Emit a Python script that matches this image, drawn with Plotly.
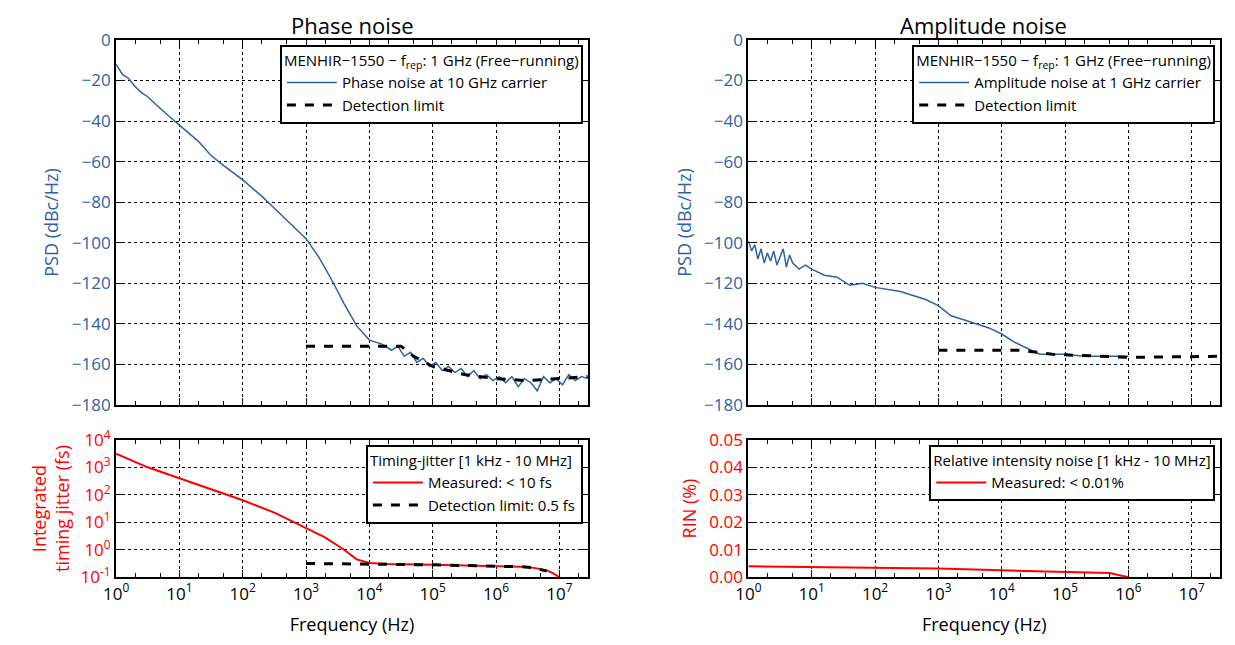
import plotly.graph_objects as go

# phase noise (log10 f, dBc/Hz)
pn_logf = [0, 0.1, 0.2, 0.3, 0.4, 0.5, 0.6, 0.7, 0.85, 1.0, 1.15, 1.3, 1.5, 1.7, 2.0, 2.3, 2.5, 2.7, 3.0, 3.2,
           3.4, 3.6, 3.8, 4.0, 4.2, 4.35, 4.45, 4.55, 4.65, 4.75, 4.85, 4.95, 5.05, 5.15, 5.25, 5.35, 5.45,
           5.55, 5.65, 5.75, 5.85, 5.95, 6.05, 6.15, 6.25, 6.35, 6.45, 6.55, 6.65, 6.75, 6.85, 6.95, 7.05,
           7.15, 7.25, 7.35, 7.45]
pn_db = [-12, -17, -19, -23, -26, -28, -31, -34, -38, -42, -46, -50, -57, -62, -69, -77, -83, -89, -98, -107,
         -118, -130, -141, -148, -150, -153, -151, -156, -154, -159, -157, -161, -159, -163, -161, -164, -162,
         -166, -163, -167, -165, -168, -166, -169, -166, -171, -167, -169, -173, -166, -169, -167, -170,
         -165, -168, -166, -167]
pn_lim_logf = [3.0, 4.5, 4.7, 5.0, 5.5, 6.0, 6.5, 7.0, 7.45]
pn_lim_db = [-151, -151, -156, -161, -165, -167, -168, -167, -166]

# amplitude noise
an_logf = [0, 0.05, 0.1, 0.15, 0.2, 0.25, 0.3, 0.35, 0.4, 0.45, 0.5, 0.55, 0.6, 0.65, 0.7, 0.8, 0.9, 1.0,
           1.2, 1.4, 1.6, 1.8, 2.0, 2.2, 2.4, 2.6, 2.8, 3.0, 3.2, 3.4, 3.6, 3.8, 4.0, 4.2, 4.4, 4.6, 4.8,
           5.0, 5.3, 5.6, 6.0]
an_db = [-99, -104, -101, -108, -103, -110, -105, -109, -104, -111, -107, -103, -112, -106, -110, -113, -111,
         -113, -116, -117, -121, -120, -122, -123, -124, -126, -128, -131, -136, -138, -140, -142, -145,
         -149, -152, -155, -155, -155, -156, -156, -156]
an_lim_logf = [3.0, 4.3, 4.8, 5.5, 6.0, 7.45]
an_lim_db = [-153, -153, -155, -156, -156.5, -156]

# integrated timing jitter (log10 fs)
tj_logf = [0, 0.5, 1.0, 1.5, 2.0, 2.5, 3.0, 3.3, 3.6, 3.8, 4.0, 4.3, 5.0, 5.5, 6.0, 6.4, 6.6, 6.8, 6.9, 7.0]
tj_log = [3.5, 3.0, 2.6, 2.2, 1.8, 1.35, 0.8, 0.45, 0.0, -0.35, -0.48, -0.52, -0.55, -0.57, -0.6, -0.62,
          -0.66, -0.75, -0.85, -1.0]
tj_lim_logf = [3.0, 4.3, 5.0, 6.0, 6.4, 6.6, 6.8]
tj_lim_log = [-0.5, -0.52, -0.55, -0.6, -0.62, -0.66, -0.78]

# RIN (%)
rin_logf = [0, 1, 2, 3, 4, 5, 5.7, 6.0]
rin_pct = [0.004, 0.0038, 0.0035, 0.0032, 0.0025, 0.002, 0.0015, 0.0]

xticks = [0, 1, 2, 3, 4, 5, 6, 7]
xticktext = ["10<sup>%d</sup>" % v for v in xticks]
jit_ticks = [-1, 0, 1, 2, 3, 4]
jit_ticktext = ["10<sup>%d</sup>" % v for v in jit_ticks]

BLUE = "#2e62a8"
RED = "#ff0000"
f = lambda lf: [10 ** v for v in lf]

fig = go.Figure()
fig.add_trace(go.Scatter(x=f(pn_logf), y=pn_db, mode="lines", line=dict(color=BLUE, width=1.5),
                         name="Phase noise at 10 GHz carrier", xaxis="x", yaxis="y", legend="legend"))
fig.add_trace(go.Scatter(x=f(pn_lim_logf), y=pn_lim_db, mode="lines",
                         line=dict(color="black", width=3, dash="dash"),
                         name="Detection limit", xaxis="x", yaxis="y", legend="legend"))
fig.add_trace(go.Scatter(x=f(tj_logf), y=f(tj_log), mode="lines", line=dict(color=RED, width=2),
                         name="Measured: < 10 fs", xaxis="x3", yaxis="y3", legend="legend3"))
fig.add_trace(go.Scatter(x=f(tj_lim_logf), y=f(tj_lim_log), mode="lines",
                         line=dict(color="black", width=3, dash="dash"),
                         name="Detection limit: 0.5 fs", xaxis="x3", yaxis="y3", legend="legend3"))
fig.add_trace(go.Scatter(x=f(an_logf), y=an_db, mode="lines", line=dict(color=BLUE, width=1.5),
                         name="Amplitude noise at 1 GHz carrier", xaxis="x2", yaxis="y2", legend="legend2"))
fig.add_trace(go.Scatter(x=f(an_lim_logf), y=an_lim_db, mode="lines",
                         line=dict(color="black", width=3, dash="dash"),
                         name="Detection limit", xaxis="x2", yaxis="y2", legend="legend2"))
fig.add_trace(go.Scatter(x=f(rin_logf), y=rin_pct, mode="lines", line=dict(color=RED, width=2),
                         name="Measured: < 0.01%", xaxis="x4", yaxis="y4", legend="legend4"))

xl = [0.0875, 0.4695]
xr = [0.5995, 0.9815]
yt = [0.3845, 0.9505]
yb = [0.1175, 0.3305]
base = dict(showline=True, linecolor="black", linewidth=2, mirror="ticks", ticks="inside",
            ticklen=7, tickcolor="black", showgrid=True, gridcolor="black", griddash="dot",
            gridwidth=0.5, zeroline=False, tickfont=dict(size=17), automargin=False)
xlog = dict(base, type="log", range=[0, 7.45], tickvals=f(xticks), ticktext=xticktext,
            minor=dict(ticks="inside", ticklen=4, tickcolor="black", showgrid=False))

lay = dict(
    width=1235, height=645, plot_bgcolor="white", paper_bgcolor="white",
    margin=dict(l=0, r=0, t=0, b=0, autoexpand=False), font=dict(family="Open Sans", color="black"),
    xaxis=dict(xlog, domain=xl, anchor="y", showticklabels=False),
    xaxis2=dict(xlog, domain=xr, anchor="y2", showticklabels=False),
    xaxis3=dict(xlog, domain=xl, anchor="y3",
                title=dict(text="Frequency (Hz)", font=dict(size=18))),
    xaxis4=dict(xlog, domain=xr, anchor="y4",
                title=dict(text="Frequency (Hz)", font=dict(size=18))),
    yaxis=dict(base, domain=yt, anchor="x", range=[-180, 0], dtick=20,
               tickfont=dict(size=17, color=BLUE),
               title=dict(text="PSD (dBc/Hz)", font=dict(size=18, color=BLUE), standoff=8)),
    yaxis2=dict(base, domain=yt, anchor="x2", range=[-180, 0], dtick=20,
                tickfont=dict(size=17, color=BLUE),
                title=dict(text="PSD (dBc/Hz)", font=dict(size=18, color=BLUE), standoff=8)),
    yaxis3=dict(base, domain=yb, anchor="x3", type="log", range=[-1, 4], tickvals=f(jit_ticks),
                ticktext=jit_ticktext, tickfont=dict(size=17, color=RED),
                title=dict(text="Integrated<br>timing jitter (fs)", font=dict(size=18, color=RED), standoff=6)),
    yaxis4=dict(base, domain=yb, anchor="x4", range=[0, 0.05], dtick=0.01, tickformat=".2f",
                tickfont=dict(size=17, color=RED),
                title=dict(text="RIN (%)", font=dict(size=18, color=RED), standoff=8)),
)
leg = dict(bgcolor="white", bordercolor="black", borderwidth=2, font=dict(size=15),
           xanchor="right", yanchor="top", itemwidth=50)
lay["legend"] = dict(leg, x=0.4655, y=0.943,
                     title=dict(text="MENHIR−1550 − f<sub>rep</sub>: 1 GHz (Free−running)", font=dict(size=15)))
lay["legend2"] = dict(leg, x=0.9775, y=0.943,
                      title=dict(text="MENHIR−1550 − f<sub>rep</sub>: 1 GHz (Free−running)", font=dict(size=15)))
lay["legend3"] = dict(leg, x=0.4655, y=0.323,
                      title=dict(text="Timing-jitter [1 kHz - 10 MHz]", font=dict(size=15)))
lay["legend4"] = dict(leg, x=0.9775, y=0.323,
                      title=dict(text="Relative intensity noise [1 kHz - 10 MHz]", font=dict(size=15)))
fig.update_layout(**lay)
fig.add_annotation(text="Phase noise", x=0.279, y=1.0, xref="paper", yref="paper", xanchor="center",
                   yanchor="top", showarrow=False, font=dict(size=22))
fig.add_annotation(text="Amplitude noise", x=0.79, y=1.0, xref="paper", yref="paper", xanchor="center",
                   yanchor="top", showarrow=False, font=dict(size=22))
fig.write_html("out.html")
